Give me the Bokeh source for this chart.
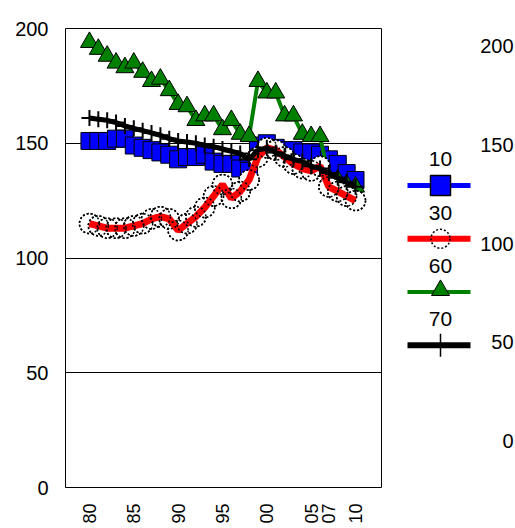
import math
from bokeh.plotting import figure
from bokeh.models import Range1d, FixedTicker
from bokeh.layouts import row
from bokeh.core.properties import value
from bokeh.embed import file_html
from bokeh.resources import INLINE

# ---------------- data ----------------
years = list(range(1980, 2011))
s10 = [151, 151, 151, 152, 152, 149, 148, 147, 146, 145, 143, 144, 144, 145, 142, 141,
       141, 139, 138, 149, 150, 148, 147, 147, 146, 146, 145, 143, 141, 137, 134]
s30 = [115, 114, 113, 113, 113, 114, 115, 117, 118, 117, 112, 115, 118, 122, 127, 132,
       126, 129, 134, 144, 148, 147, 144, 141, 139, 138, 140, 131, 129, 127, 125]
s60 = [194, 191, 188, 185, 183, 185, 181, 177, 178, 173, 167, 166, 160, 162, 162, 156,
       160, 154, 153, 177, 172, 172, 162, 162, 154, 153, 153, 135, 134, 132, 131]
s70 = [161, 160.5, 160, 159, 157.5, 156.5, 155.5, 154.5, 153.5, 152, 151, 150.5, 150, 149,
       148.5, 147.5, 146.5, 145.5, 143, 147, 148, 146, 144.5, 143, 142, 140, 139, 137, 135,
       133, 131]

series_names = ["10", "30", "60", "70"]
x_ticks = [1980, 1985, 1990, 1995, 2000, 2005, 2007, 2010]
x_tick_labels = ["80", "85", "90", "95", "00", "05", "07", "10"]
y_ticks = [0, 50, 100, 150, 200]
right_ticks = [0, 50, 100, 150, 200]
right_tick_labels = ["0", "50", "100", "150", "200"]

FONT = "Liberation Sans"
H = 526

# ---------------- main chart ----------------
p = figure(width=382, height=H,
           x_range=Range1d(1977.3, 2012.93), y_range=Range1d(0, 200),
           output_backend="svg", toolbar_location=None,
           min_border_left=65, min_border_top=28, min_border_bottom=H - 28 - 459,
           min_border_right=1)
p.background_fill_color = "white"
p.border_fill_color = "white"
p.outline_line_color = "black"
p.outline_line_width = 1

p.xgrid.visible = False
p.ygrid.grid_line_color = "black"
p.ygrid.grid_line_width = 1
p.ygrid.ticker = FixedTicker(ticks=y_ticks)

ya = p.yaxis[0]
ya.ticker = FixedTicker(ticks=y_ticks)
ya.axis_line_color = None
ya.major_tick_out = 0
ya.major_tick_in = 0
ya.minor_tick_out = 0
ya.minor_tick_in = 0
ya.major_label_standoff = 17
ya.major_label_text_font = FONT
ya.major_label_text_font_size = "20px"
ya.major_label_text_color = "black"

xa = p.xaxis[0]
xa.ticker = FixedTicker(ticks=x_ticks)
xa.major_label_overrides = {t: l for t, l in zip(x_ticks, x_tick_labels)}
xa.major_label_orientation = math.pi / 2
xa.axis_line_color = None
xa.major_tick_out = 0
xa.major_tick_in = 0
xa.minor_tick_out = 0
xa.minor_tick_in = 0
xa.major_label_standoff = 16
xa.major_label_text_font = FONT
xa.major_label_text_font_size = "18px"
xa.major_label_text_color = "black"

# blue squares
p.line(years, s10, line_color="blue", line_width=5)
p.scatter(years, s10, marker="square", size=17, fill_color="blue",
          line_color="black", line_width=1)
# green triangles
p.line(years, s60, line_color="green", line_width=4)
p.scatter(years, s60, marker="triangle", size=18, fill_color="green",
          line_color="black", line_width=1)
# red with dashed circles
p.scatter(years, s30, marker="circle", size=20, fill_color="white",
          line_color="black", line_width=1.5, line_dash="2 2")
p.line(years, s30, line_color="red", line_width=7)
p.scatter(years, s30, marker="circle", size=20, fill_color=None,
          line_color="black", line_width=1.5, line_dash="2 2")
# black crosses
p.line(years, s70, line_color="black", line_width=5)
p.scatter(years, s70, marker="cross", size=16, line_color="black", line_width=2)

# ---------------- legend + right axis panel ----------------
q = figure(width=133, height=H,
           x_range=Range1d(382, 515), y_range=Range1d(H, 0),
           output_backend="svg", toolbar_location=None,
           x_axis_location=None, y_axis_location=None,
           min_border=0, min_border_left=0, min_border_right=0,
           min_border_top=0, min_border_bottom=0)
# right-hand value scale: 0 at y=473, 200 at y=20
q.extra_y_ranges = {"right": Range1d((473 - H) / 2.265, 473 / 2.265)}
q.outline_line_color = None
q.background_fill_color = "white"
q.border_fill_color = "white"
q.grid.visible = False

q.text(x=[513] * len(right_ticks), y=right_ticks, text=right_tick_labels,
       y_range_name="right", text_align="right", text_baseline="middle",
       text_font=value(FONT), text_font_size="20px", text_color="black")

leg_colors = ["blue", "red", "green", "black"]
leg_widths = [5, 6, 4, 6]
cx = 440
for i, name in enumerate(series_names):
    ly = 180 + 61 * i
    q.line([407, 470], [ly, ly], line_color=leg_colors[i], line_width=leg_widths[i])
    q.text(x=[cx], y=[ly - 30], text=[name], text_align="center", text_baseline="middle",
           text_font=value(FONT), text_font_size="21px", text_color="black")
    if i == 0:
        q.scatter([cx], [ly], marker="square", size=20, fill_color="blue",
                  line_color="black", line_width=1.5)
    elif i == 1:
        q.scatter([cx], [ly], marker="circle", size=19, fill_color=None,
                  line_color="black", line_width=1.5, line_dash="2 2")
    elif i == 2:
        q.scatter([cx], [ly - 2], marker="triangle", size=18, fill_color="green",
                  line_color="black", line_width=1)
    else:
        q.scatter([cx], [ly], marker="cross", size=23, line_color="black", line_width=1.5)

layout = row(p, q)
open("out.html", "w").write(file_html(layout, INLINE))
